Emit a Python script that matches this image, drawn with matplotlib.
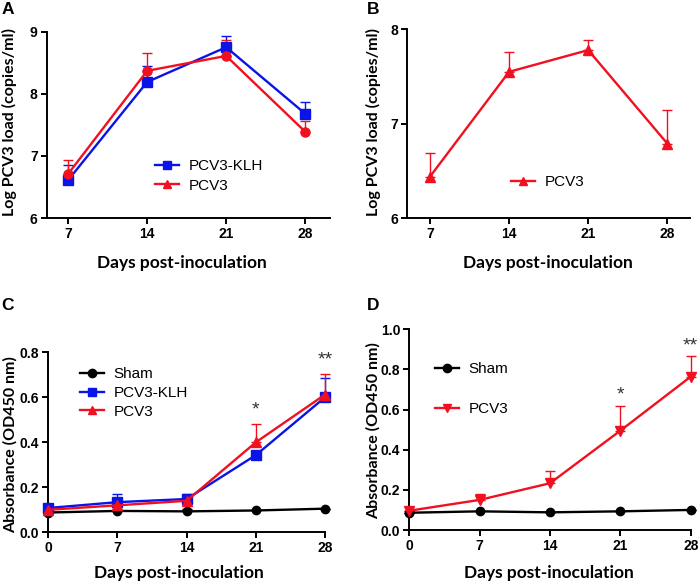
import matplotlib
matplotlib.use("Agg")
import matplotlib.pyplot as plt
import numpy as np

# ---------------- data ----------------
days_ab = [7, 14, 21, 28]
a_klh = [6.61, 8.19, 8.75, 7.68]
a_klh_err = [0.25, 0.26, 0.18, 0.18]
a_pcv3 = [6.71, 8.37, 8.61, 7.39]
a_pcv3_err = [0.22, 0.29, 0.26, 0.18]

b_pcv3 = [6.44, 7.55, 7.78, 6.79]
b_pcv3_err = [0.25, 0.21, 0.11, 0.36]

days_cd = [0, 7, 14, 21, 28]
c_sham = [0.088, 0.095, 0.093, 0.097, 0.105]
c_sham_err = [0.0, 0.0, 0.01, 0.0, 0.0]
c_klh = [0.108, 0.134, 0.148, 0.343, 0.600]
c_klh_err = [0.008, 0.038, 0.022, 0.0, 0.088]
c_pcv3 = [0.100, 0.120, 0.140, 0.400, 0.612]
c_pcv3_err = [0.0, 0.0, 0.0, 0.083, 0.092]

d_sham = [0.086, 0.093, 0.088, 0.093, 0.100]
d_pcv3 = [0.096, 0.150, 0.233, 0.495, 0.764]
d_pcv3_err = [0.0, 0.027, 0.062, 0.123, 0.101]

c_stars = {21: ("*", 0.545), 28: ("**", 0.765)}
d_stars = {21: ("*", 0.675), 28: ("**", 0.915)}

BLUE = "#0a14e6"
RED = "#f01020"
BLACK = "#000000"

W, H = 700, 585
fig = plt.figure(figsize=(7, 5.85), dpi=100)

def ax_px(left, right, top, bottom):
    return fig.add_axes([left / W, 1 - bottom / H, (right - left) / W, (bottom - top) / H])

BOLD = dict(family="Lato", weight="bold")

def style(ax):
    for s in ("top", "right"):
        ax.spines[s].set_visible(False)
    for s in ("left", "bottom"):
        ax.spines[s].set_linewidth(1.4)
    ax.tick_params(direction="out", length=4, width=1.4, labelsize=10, pad=2.5)
    for lab in ax.get_xticklabels() + ax.get_yticklabels():
        lab.set_fontfamily("Liberation Sans")
        lab.set_fontweight("bold")

def series(ax, x, y, err, color, marker, ms=6.5):
    y = np.array(y); err = np.array(err)
    ax.errorbar(x, y, yerr=[np.zeros_like(err), err], color=color, lw=1.7,
                marker=marker, ms=ms, capsize=3.5, elinewidth=1.0, capthick=1.0,
                clip_on=False, zorder=3)

def ftext(x, y, s, **kw):
    fig.text(x / W, 1 - y / H, s, **kw)

# ---------------- Panel A ----------------
axA = ax_px(46.7, 330, 31.7, 218)
series(axA, days_ab, a_klh, a_klh_err, BLUE, "s")
series(axA, days_ab, a_pcv3, a_pcv3_err, RED, "o")
axA.set_xlim(5.1, 30.2)
axA.set_ylim(6, 9)
axA.set_xticks(days_ab)
axA.set_yticks([6, 7, 8, 9])
style(axA)
hA = [plt.Line2D([], [], color=BLUE, marker="s", lw=1.7, ms=6),
      plt.Line2D([], [], color=RED, marker="^", lw=1.7, ms=6)]
axA.legend(hA, ["PCV3-KLH", "PCV3"], loc="center left",
           bbox_to_anchor=(155 / W, 1 - 176 / H), bbox_transform=fig.transFigure,
           frameon=False, prop=dict(family="Liberation Sans", size=11),
           handlelength=1.6, handletextpad=0.6, labelspacing=0.35, borderpad=0, borderaxespad=0)

# ---------------- Panel B ----------------
axB = ax_px(407.3, 690, 29.3, 218.3)
series(axB, days_ab, b_pcv3, b_pcv3_err, RED, "^")
axB.set_xlim(5.0, 30.0)
axB.set_ylim(6, 8)
axB.set_xticks(days_ab)
axB.set_yticks([6, 7, 8])
style(axB)
hB = [plt.Line2D([], [], color=RED, marker="^", lw=1.7, ms=6)]
axB.legend(hB, ["PCV3"], loc="center left",
           bbox_to_anchor=(511 / W, 1 - 182 / H), bbox_transform=fig.transFigure,
           frameon=False, prop=dict(family="Liberation Sans", size=11),
           handlelength=1.6, handletextpad=0.6, borderpad=0, borderaxespad=0)

# ---------------- Panel C ----------------
axC = ax_px(48.3, 325, 352.3, 532.3)
series(axC, days_cd, c_sham, c_sham_err, BLACK, "o", ms=6)
series(axC, days_cd, c_klh, c_klh_err, BLUE, "s")
series(axC, days_cd, c_pcv3, c_pcv3_err, RED, "^")
axC.set_xlim(0, 28)
axC.set_ylim(0, 0.8)
axC.set_xticks(days_cd)
axC.set_yticks([0.0, 0.2, 0.4, 0.6, 0.8])
axC.set_yticklabels(["0.0", "0.2", "0.4", "0.6", "0.8"])
style(axC)
for d, (s, yv) in c_stars.items():
    axC.text(d, yv, s, ha="center", va="center", fontsize=14, family="Liberation Sans", color="#333333")
hC = [plt.Line2D([], [], color=BLACK, marker="o", lw=1.7, ms=6),
      plt.Line2D([], [], color=BLUE, marker="s", lw=1.7, ms=6),
      plt.Line2D([], [], color=RED, marker="^", lw=1.7, ms=6)]
axC.legend(hC, ["Sham", "PCV3-KLH", "PCV3"], loc="center left",
           bbox_to_anchor=(80 / W, 1 - 393 / H), bbox_transform=fig.transFigure,
           frameon=False, prop=dict(family="Liberation Sans", size=11),
           handlelength=1.6, handletextpad=0.6, labelspacing=0.3, borderpad=0, borderaxespad=0)

# ---------------- Panel D ----------------
axD = ax_px(409.3, 690.7, 329.3, 530)
series(axD, days_cd, d_sham, np.zeros(5), BLACK, "o", ms=6)
series(axD, days_cd, d_pcv3, d_pcv3_err, RED, "v")
axD.set_xlim(0, 28)
axD.set_ylim(0, 1.0)
axD.set_xticks(days_cd)
axD.set_yticks([0.0, 0.2, 0.4, 0.6, 0.8, 1.0])
axD.set_yticklabels(["0.0", "0.2", "0.4", "0.6", "0.8", "1.0"])
style(axD)
for d, (s, yv) in d_stars.items():
    axD.text(d, yv, s, ha="center", va="center", fontsize=14, family="Liberation Sans", color="#333333")
hD = [plt.Line2D([], [], color=BLACK, marker="o", lw=1.7, ms=6),
      plt.Line2D([], [], color=RED, marker="v", lw=1.7, ms=6)]
axD.legend(hD, ["Sham", "PCV3"], loc="center left",
           bbox_to_anchor=(435 / W, 1 - 389 / H), bbox_transform=fig.transFigure,
           frameon=False, prop=dict(family="Liberation Sans", size=11),
           handlelength=1.6, handletextpad=0.6, labelspacing=1.7, borderpad=0, borderaxespad=0)

# ---------------- labels ----------------
for x, y in [(181.5, 263), (547.5, 263), (179, 573), (549, 573)]:
    ftext(x, y, "Days post-inoculation", ha="center", va="center", fontsize=12.5, **BOLD)
ftext(9, 122, "Log PCV3 load (copies/ml)", ha="center", va="center", rotation=90, fontsize=11.5, **BOLD)
ftext(373, 122, "Log PCV3 load (copies/ml)", ha="center", va="center", rotation=90, fontsize=11.5, **BOLD)
ftext(10, 445, "Absorbance (OD450 nm)", ha="center", va="center", rotation=90, fontsize=11.5, **BOLD)
ftext(373, 431, "Absorbance (OD450 nm)", ha="center", va="center", rotation=90, fontsize=11.5, **BOLD)

for x, y, s in [(8, 9, "A"), (373, 9, "B"), (8, 306, "C"), (373, 306, "D")]:
    ftext(x, y, s, ha="center", va="center", fontsize=12.5, family="Liberation Sans", weight="bold")

fig.savefig("out.png", dpi=100)
